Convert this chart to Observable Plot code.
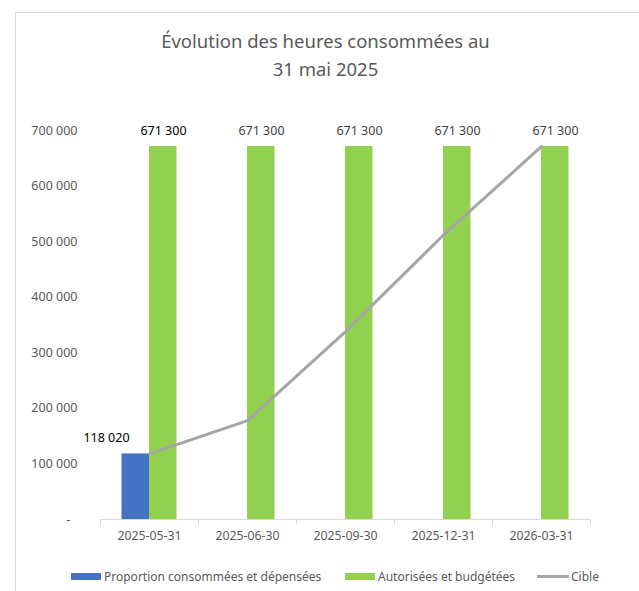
<!DOCTYPE html>
<html>
<head>
<meta charset="utf-8">
<script src="https://cdn.jsdelivr.net/npm/d3@7"></script>
<script src="https://cdn.jsdelivr.net/npm/@observablehq/plot@0.6"></script>
<style>
  html, body { margin: 0; padding: 0; background: #fff; overflow: hidden; }
  body { width: 639px; height: 591px; position: relative; font-family: "Noto Sans", sans-serif; }
  #frame { position: absolute; left: 15px; top: 12px; width: 700px; height: 700px; border: 1px solid #d9d9d9; box-sizing: border-box; }
  #title { position: absolute; left: 0; width: 651px; top: 27px; text-align: center; font-size: 18.5px; line-height: 28px; color: #595959; }
  #chart { position: absolute; left: 0; top: 100px; }
  #legend { position: absolute; top: 566px; left: 0; width: 639px; height: 20px; font-size: 12px; color: #595959; }
  .item { position: absolute; top: 0; display: flex; align-items: center; height: 20px; white-space: nowrap; }
  .sw { display: inline-block; width: 30px; height: 7px; margin-right: 3px; }
  .ln { display: inline-block; width: 32px; height: 3px; margin-right: 2px; }
</style>
</head>
<body>
<div id="frame"></div>
<div id="title">Évolution des heures consommées au<br>31 mai 2025</div>
<div id="chart"></div>
<div id="legend"></div>
<script>
const categories = ["2025-05-31", "2025-06-30", "2025-09-30", "2025-12-31", "2026-03-31"];
const consumed = [118020, null, null, null, null];
const authorized = [671300, 671300, 671300, 671300, 671300];
const target = [118020, 178000, 338000, 512000, 671300];
const yTicks = [0, 100000, 200000, 300000, 400000, 500000, 600000, 700000];
const seriesNames = ["Proportion consommées et dépensées", "Autorisées et budgétées", "Cible"];
const colors = ["#4472C4", "#92D050", "#A5A5A5"];

const rows = categories.map((c, i) => ({date: c, consumed: consumed[i], authorized: authorized[i], target: target[i], first: i === 0}));
const consumedRows = rows.filter(d => d.consumed != null);
const fmt = d => d === 0 ? "-\u2007" : d3.format(",")(d).replace(/,/g, " ");

const plot = Plot.plot({
  width: 639,
  height: 460,
  marginTop: 30,
  marginBottom: 41,
  marginLeft: 100,
  marginRight: 49,
  style: {fontFamily: "Noto Sans, sans-serif", background: "transparent", overflow: "visible"},
  x: {domain: categories, padding: 0, axis: null},
  y: {domain: [0, 700000], axis: null},
  marks: [
    Plot.axisY(yTicks, {tickSize: 0, tickPadding: 23, tickFormat: fmt, fontSize: 12.5, fill: "#595959", label: null}),
    Plot.axisX(categories, {tickSize: 0, tickPadding: 12, fontSize: 12.3, fill: "#595959", label: null}),
    Plot.ruleY([0], {stroke: "#d9d9d9", strokeWidth: 1}),
    Plot.ruleX(categories, {x: d => d, dx: -49, y1: 0, y2: -10000, stroke: "#d9d9d9"}),
    Plot.ruleX(categories.slice(-1), {x: d => d, dx: 49, y1: 0, y2: -10000, stroke: "#d9d9d9"}),
    Plot.barY(consumedRows, {x: "date", y: "consumed", fill: colors[0], insetLeft: 21.5, insetRight: 49}),
    Plot.barY(rows, {x: "date", y: "authorized", fill: colors[1], insetLeft: 49, insetRight: 21.5}),
    Plot.line(rows, {x: "date", y: "target", stroke: colors[2], strokeWidth: 3}),
    Plot.text(rows, {x: "date", y: "authorized", text: d => fmt(d.authorized), dx: 14, dy: -15, fontSize: 12.5, fill: d => d.first ? "#000000" : "#404040"}),
    Plot.text(consumedRows, {x: "date", y: "consumed", text: d => fmt(d.consumed), dx: -43, dy: -16, fontSize: 12.5, fill: "#000000"})
  ]
});
document.getElementById("chart").appendChild(plot);

const legend = document.getElementById("legend");
const positions = [71, 345, 537];
seriesNames.forEach((name, i) => {
  const item = document.createElement("div");
  item.className = "item";
  item.style.left = positions[i] + "px";
  const sw = document.createElement("span");
  sw.className = i === 2 ? "ln" : "sw";
  sw.style.background = colors[i];
  item.appendChild(sw);
  item.appendChild(document.createTextNode(name));
  legend.appendChild(item);
});
</script>
</body>
</html>
